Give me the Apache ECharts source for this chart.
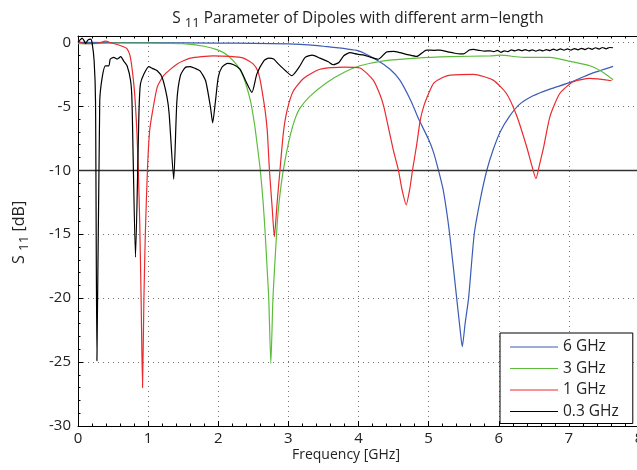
<!DOCTYPE html>
<html>
<head>
<meta charset="utf-8">
<script src="https://cdn.jsdelivr.net/npm/echarts@6/dist/echarts.min.js"></script>
<style>html,body{margin:0;padding:0;background:#fff;}#c{width:637px;height:470px;}</style>
</head>
<body>
<div id="c"></div>
<script>
// ---- Data ----
var seriesNames = ['6 GHz', '3 GHz', '1 GHz', '0.3 GHz'];
var xTicks = [0,1,2,3,4,5,6,7,8];
var yTicks = [-30,-25,-20,-15,-10,-5,0];
var refLevel = [-10];

var f6 = [0, 1, 2, 2.5, 3, 3.17, 3.5, 4.0, 4.26, 4.45, 4.59, 4.75, 4.85, 5.0, 5.07, 5.14, 5.21, 5.30, 5.40, 5.45, 5.48, 5.52, 5.57, 5.65, 5.74, 5.83, 5.92, 6.02, 6.15, 6.30, 6.49, 6.73, 7.02, 7.30, 7.63];
var s6 = [0, -0.02, -0.05, -0.08, -0.12, -0.16, -0.3, -0.66, -1.38, -2.1, -2.95, -4.6, -5.9, -7.6, -8.6, -10, -11.6, -15, -20, -22.5, -23.8, -22, -20, -15, -12.2, -10, -8.4, -7.0, -5.8, -4.83, -4.17, -3.65, -3.13, -2.48, -1.88];

var f3 = [0, 0.5, 1.0, 1.5, 1.8, 2.0, 2.13, 2.27, 2.36, 2.46, 2.52, 2.56, 2.60, 2.64, 2.67, 2.70, 2.72, 2.75, 2.78, 2.81, 2.85, 2.90, 2.95, 3.03, 3.10, 3.17, 3.31, 3.55, 3.79, 4.02, 4.36, 4.83, 5.31, 5.88, 6.02, 6.35, 6.73, 7.02, 7.30, 7.49, 7.63];
var s3 = [-0.1, -0.05, -0.05, -0.1, -0.3, -0.6, -1.0, -1.8, -2.7, -4.6, -6.5, -8.2, -10, -12.5, -15, -18, -20, -25.1, -20, -17, -13.5, -11, -9.3, -7.2, -5.9, -5.1, -4.2, -3.13, -2.35, -1.83, -1.44, -1.23, -1.12, -1.05, -1.0, -1.17, -1.17, -1.49, -1.83, -2.35, -2.92];

var f1 = [0, 0.05, 0.1, 0.2, 0.3, 0.39, 0.48, 0.58, 0.65, 0.70, 0.74, 0.77, 0.80, 0.82, 0.84, 0.86, 0.88, 0.90, 0.92, 0.94, 0.96, 0.99, 1.02, 1.06, 1.13, 1.22, 1.41, 1.60, 1.93, 2.17, 2.36, 2.50, 2.56, 2.60, 2.64, 2.67, 2.70, 2.73, 2.77, 2.80, 2.84, 2.88, 2.93, 2.98, 3.07, 3.22, 3.45, 3.79, 4.02, 4.21, 4.30, 4.36, 4.44, 4.50, 4.57, 4.62, 4.68, 4.73, 4.77, 4.83, 4.88, 4.93, 5.0, 5.07, 5.2, 5.31, 5.64, 5.92, 6.11, 6.26, 6.40, 6.47, 6.53, 6.58, 6.64, 6.73, 6.87, 7.06, 7.30, 7.61];
var s1 = [0.1, -0.05, -0.1, -0.1, -0.05, 0.1, -0.05, -0.2, -0.34, -0.5, -1.0, -2.0, -3.5, -5.0, -7.0, -10, -14, -20, -27.0, -20, -15, -10, -7.0, -5.5, -3.5, -2.6, -1.7, -1.23, -1.05, -1.1, -1.23, -1.7, -2.2, -3.0, -4.3, -5.4, -7.0, -10, -13, -15.2, -12.5, -10, -7.0, -5.35, -3.8, -2.8, -2.1, -1.93, -2.0, -2.95, -4.0, -5.0, -7.0, -8.5, -10, -11.5, -12.7, -11.5, -10, -8.0, -6.1, -5.0, -4.0, -3.2, -2.75, -2.56, -2.5, -2.95, -4.0, -5.8, -8.2, -9.6, -10.65, -9.6, -8.2, -5.8, -4.0, -3.08, -2.82, -3.0];

var f03 = [0, 0.03, 0.06, 0.09, 0.11, 0.14, 0.18, 0.20, 0.23, 0.25, 0.27, 0.31, 0.345, 0.39, 0.44, 0.46, 0.51, 0.56, 0.61, 0.65, 0.70, 0.75, 0.77, 0.82, 0.87, 0.89, 0.94, 1.01, 1.06, 1.13, 1.20, 1.27, 1.30, 1.365, 1.41, 1.46, 1.53, 1.60, 1.67, 1.74, 1.82, 1.89, 1.92, 1.96, 2.00, 2.05, 2.13, 2.22, 2.31, 2.39, 2.48, 2.55, 2.65, 2.72, 2.79, 2.86, 2.96, 3.05, 3.15, 3.24, 3.34, 3.45, 3.57, 3.64, 3.72, 3.79, 3.88, 3.98, 4.08, 4.17, 4.28, 4.40, 4.50, 4.59, 4.70, 4.83, 4.97, 5.08, 5.16, 5.26, 5.35, 5.45, 5.50, 5.58, 5.64, 5.72, 5.80, 5.88, 5.93, 5.98, 6.03, 6.08, 6.13, 6.18, 6.23, 6.28, 6.33, 6.38, 6.43, 6.48, 6.53, 6.58, 6.63, 6.68, 6.73, 6.78, 6.83, 6.88, 6.93, 6.98, 7.03, 7.08, 7.13, 7.18, 7.23, 7.28, 7.33, 7.38, 7.43, 7.48, 7.53, 7.58, 7.63];
var s03 = [0, 0.2, 0.34, 0.1, -0.08, 0.18, 0.26, 0, -1.44, -4.6, -24.9, -4.6, -2.74, -1.83, -1.83, -1.3, -1.17, -1.3, -1.12, -1.44, -1.83, -3.0, -4.6, -16.8, -5.35, -3.26, -2.48, -1.9, -2.03, -2.22, -2.74, -4.3, -5.6, -10.7, -4.6, -2.6, -1.96, -1.9, -2.03, -2.22, -3.0, -5.1, -6.29, -4.6, -2.74, -1.96, -1.64, -1.75, -2.09, -3.0, -3.91, -2.48, -1.44, -1.23, -1.3, -1.7, -2.22, -2.6, -1.96, -1.17, -1.0, -1.23, -1.52, -1.75, -1.57, -1.05, -0.8, -0.92, -1.0, -1.15, -1.32, -0.75, -0.7, -0.8, -0.95, -1.1, -0.6, -0.62, -0.6, -0.72, -0.82, -0.9, -0.9, -0.6, -0.55, -0.62, -0.68, -0.66, -0.72, -0.62, -0.78, -0.66, -0.72, -0.58, -0.66, -0.56, -0.65, -0.56, -0.66, -0.58, -0.68, -0.58, -0.66, -0.56, -0.64, -0.52, -0.62, -0.5, -0.6, -0.5, -0.6, -0.48, -0.58, -0.46, -0.56, -0.44, -0.54, -0.42, -0.52, -0.4, -0.5, -0.4, -0.42];

var colors = ['#3b5cb6', '#5cbd3c', '#ea2a2e', '#000000'];

function zip(xs, ys){ var out=[]; for (var i=0;i<xs.length;i++) out.push([xs[i], ys[i]]); return out; }
var allX = [f6, f3, f1, f03];
var allY = [s6, s3, s1, s03];

var FONT = 'Open Sans';
var chart = echarts.init(document.getElementById('c'), null, {renderer:'canvas'});

var series = seriesNames.map(function(name, i){
  var s = {
    name: name, type: 'line', data: zip(allX[i], allY[i]),
    symbol: 'none', smooth: 0.2, z: 3 + i,
    lineStyle: {color: colors[i], width: 1.2},
    itemStyle: {color: colors[i]},
    xAxisIndex: 0, yAxisIndex: 0, animation: false
  };
  if (i === 0) {
    s.markLine = {
      silent: true, symbol: 'none', label: {show: false},
      lineStyle: {color: '#333', width: 1.4, type: 'solid'},
      data: refLevel.map(function(v){ return {yAxis: v}; }),
      animation: false
    };
  }
  return s;
});

var option = {
  animation: false,
  textStyle: {fontFamily: FONT},
  title: {
    text: 'S {sub|11} Parameter of Dipoles with different arm\u2212length',
    left: 353, top: 3, textAlign: 'center',
    textStyle: {fontFamily: FONT, fontSize: 15.4, fontWeight: 'normal', color: '#222',
      rich: {sub: {fontFamily: FONT, fontSize: 13, color: '#222', verticalAlign: 'bottom', padding: [9,0,0,0]}}}
  },
  grid: {left: 78, top: 36, width: 561, height: 390, show: false, outerBoundsMode: 'none', containLabel: false},
  legend: {
    data: seriesNames, orient: 'vertical', left: 500, top: 333,
    backgroundColor: '#fff', borderColor: '#000', borderWidth: 1,
    padding: [6, 14, 4, 10], itemWidth: 48, itemHeight: 14, itemGap: 5.5,
    textStyle: {fontFamily: FONT, fontSize: 15.5, color: '#222'},
    icon: 'path://M0,7L48,7L48,8L0,8Z', selectedMode: false
  },
  xAxis: [{
    type: 'value', min: 0, max: 8, interval: 1, position: 'bottom',
    axisLine: {show: true, onZero: false, lineStyle: {color: '#000', width: 1}},
    axisTick: {show: true, inside: true, length: 5, lineStyle: {color: '#000'}},
    minorTick: {show: true, splitNumber: 5, length: 2.5, lineStyle: {color: '#000'}},
    axisLabel: {fontFamily: FONT, fontSize: 15, color: '#222', margin: 5, formatter: function(v){ return xTicks.indexOf(v) >= 0 ? String(v) : ''; }},
    splitLine: {show: true, lineStyle: {color: '#777', width: 1, type: [1, 4]}}
  }, {
    type: 'value', min: 0, max: 8, interval: 1, position: 'top',
    axisLine: {show: true, onZero: false, lineStyle: {color: '#000', width: 1}},
    axisTick: {show: true, inside: true, length: 5, lineStyle: {color: '#000'}},
    minorTick: {show: true, splitNumber: 5, length: 2.5, lineStyle: {color: '#000'}},
    axisLabel: {show: false}, splitLine: {show: false}
  }],
  yAxis: [{
    type: 'value', min: -30, max: 0.5, interval: 5,
    axisLine: {show: true, onZero: false, lineStyle: {color: '#000', width: 1}},
    axisTick: {show: true, inside: true, length: 5, lineStyle: {color: '#000'}},
    minorTick: {show: true, splitNumber: 5, length: 2.5, lineStyle: {color: '#000'}},
    axisLabel: {fontFamily: FONT, fontSize: 15, color: '#222', margin: 7, showMaxLabel: false,
      formatter: function(v){ return yTicks.indexOf(v) >= 0 ? String(v) : ''; }},
    splitLine: {show: true, lineStyle: {color: '#777', width: 1, type: [1, 4]}}
  }],
  graphic: [
    {type: 'text', left: 292, top: 448, style: {text: 'Frequency [GHz]', font: '14px "Open Sans"', fill: '#222'}},
    {type: 'text', x: 8, y: 264, rotation: Math.PI/2,
      style: {text: 'S {sub|11} [dB]', font: '16px "Open Sans"', fill: '#222',
        rich: {sub: {font: '13.5px "Open Sans"', fill: '#222', padding: [9,0,0,0], verticalAlign: 'bottom'}}}}
  ],
  series: series
};
chart.setOption(option);
</script>
</body>
</html>
